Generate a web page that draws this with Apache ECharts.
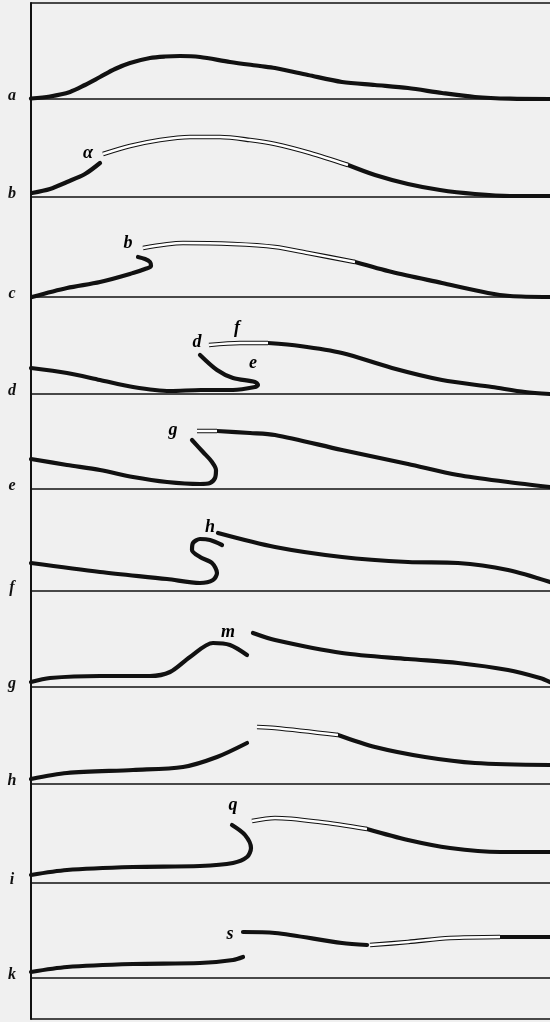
<!DOCTYPE html>
<html><head><meta charset="utf-8">
<script src="https://cdn.jsdelivr.net/npm/echarts@6/dist/echarts.min.js"></script>
<style>html,body{margin:0;padding:0;background:#f0f0f0}#c{width:550px;height:1022px}</style>
</head><body><div id="c"></div><script>
// Panel letters (left of each trace)
const panelLetters = ['a','b','c','d','e','f','g','h','i','k'];

// Traces: [time, height above baseline]
const aTrace = [[0,0.5],[19,2.5],[39,7],[54,14],[69,22],[84,30],[99,36],[119,41],[134,42.5],[149,43],[169,42],[199,37],[229,33],[244,31],[277,24],[311,17],[344,14],[377,11],[411,6],[444,2],[479,0.3],[519,0]];

const bRise = [[1,4],[19,8],[36,15],[54,23],[69,34]];
const bHollow = [[72,43],[99,51],[129,57],[159,60],[189,60],[219,57],[244,53],[279,44],[317,32]];
const bFall = [[317,32],[344,22],[377,13],[409,7],[444,3],[479,1],[519,1]];
const bMarks = [[57,44,'α']];

const cRise = [[1,0],[36,9],[69,15],[102,24],[114,28],[120,31],[119,35],[114,38],[107,40]];
const cHollow = [[112,49],[152,54],[202,53],[244,50],[277,44],[324,35]];
const cFall = [[324,35],[361,25],[411,14],[457,4],[479,1],[519,0]];
const cMarks = [[97,54,'b']];

const dPre = [[0,26],[36,21],[69,14],[102,7],[139,3],[170,4],[202,4],[224,7],[227,9],[224,12],[202,16],[186,24],[169,39]];
const dHollow = [[178,49],[209,51],[237,51]];
const dTail = [[237,51],[269,48],[311,41],[361,26],[411,14],[461,7],[494,2],[519,0]];
const dMarks = [[166,52,'d'],[206,66,'f'],[222,31,'e']];

const ePre = [[0,30],[36,24],[69,19],[102,12],[136,7],[169,5],[179,6],[184,11],[185,19],[181,27],[172,37],[161,49]];
const eHollow = [[166,58],[186,58]];
const eTail = [[186,58],[219,56],[244,54],[311,39],[377,25],[427,14],[477,7],[519,2]];
const eMarks = [[142,59,'g']];

const fPre = [[0,28],[69,19],[136,12],[169,8],[182,11],[186,18],[181,28],[169,34],[161,41],[162,48],[169,52],[179,51],[191,46]];
const fTail = [[187,58],[244,44],[311,34],[377,29],[427,28],[477,21],[519,9]];
const fMarks = [[179,64,'h']];

const gPre = [[0,5],[19,9],[69,11],[119,11],[139,15],[159,30],[182,44],[199,42],[216,32]];
const gTail = [[222,54],[244,47],[311,34],[377,28],[427,24],[477,17],[509,9],[519,5]];
const gMarks = [[197,55,'m']];

const hPre = [[0,5],[36,11],[102,14],[152,17],[186,27],[216,41]];
const hHollow = [[226,57],[244,56],[307,49]];
const hTail = [[307,49],[344,37],[394,27],[444,21],[519,19]];

const iPre = [[0,8],[36,13],[102,16],[169,17],[202,20],[216,26],[220,35],[214,48],[201,58]];
const iHollow = [[221,62],[244,65],[289,61],[336,54]];
const iTail = [[336,54],[377,43],[419,35],[469,31],[519,31]];
const iMarks = [[202,78,'q']];

const kPre = [[0,6],[36,11],[102,14],[169,15],[202,18],[212,21]];
const kMid = [[212,46],[244,45],[311,35],[336,33]];
const kHollow = [[339,33],[377,36],[419,40],[469,41]];
const kTail = [[469,41],[519,41]];
const kMarks = [[199,44,'s']];

const panels = [
  {solid:[aTrace], hollow:[], marks:[]},
  {solid:[bRise,bFall], hollow:[bHollow], marks:bMarks},
  {solid:[cRise,cFall], hollow:[cHollow], marks:cMarks},
  {solid:[dPre,dTail], hollow:[dHollow], marks:dMarks},
  {solid:[ePre,eTail], hollow:[eHollow], marks:eMarks},
  {solid:[fPre,fTail], hollow:[], marks:fMarks},
  {solid:[gPre,gTail], hollow:[], marks:gMarks},
  {solid:[hPre,hTail], hollow:[hHollow], marks:[]},
  {solid:[iPre,iTail], hollow:[iHollow], marks:iMarks},
  {solid:[kPre,kMid,kTail], hollow:[kHollow], marks:kMarks}
];

// Layout
const edges = [3,99,197,297,394,489,591,687,784,883,978,1019];
const INK = '#111';
const grids=[], xAxes=[], yAxes=[], series=[], graphics=[];
const hiddenParts = {axisTick:{show:false},axisLabel:{show:false},splitLine:{show:false}};
for (let i=0;i<edges.length-1;i++){
  const h = edges[i+1]-edges[i];
  grids.push({left:31,right:0,top:edges[i],height:h});
  xAxes.push(Object.assign({gridIndex:i,type:'value',min:0,max:519,position:'bottom',
    axisLine:{show:true,onZero:false,lineStyle:{color:INK,width:1.5}}},hiddenParts));
  yAxes.push(Object.assign({gridIndex:i,type:'value',min:0,max:h,
    axisLine:{show:true,onZero:false,lineStyle:{color:INK,width:2}}},hiddenParts));
}
// top border
xAxes.push(Object.assign({gridIndex:0,type:'value',min:0,max:519,position:'top',
  axisLine:{show:true,onZero:false,lineStyle:{color:INK,width:1.5}}},hiddenParts));

const lineBase = {type:'line',showSymbol:false,symbol:'none',smooth:0.3,clip:false,silent:true,animation:false};
panels.forEach((p,i)=>{
  p.solid.forEach(d=>series.push(Object.assign({},lineBase,{xAxisIndex:i,yAxisIndex:i,data:d,
    lineStyle:{color:INK,width:4.2,cap:'round',join:'round'}})));
  p.hollow.forEach(d=>{
    series.push(Object.assign({},lineBase,{xAxisIndex:i,yAxisIndex:i,data:d,lineStyle:{color:INK,width:4.6,join:'round'}}));
    series.push(Object.assign({},lineBase,{xAxisIndex:i,yAxisIndex:i,data:d,lineStyle:{color:'#ffffff',width:2.4,join:'round'}}));
  });
  if (p.marks.length) series.push({type:'scatter',xAxisIndex:i,yAxisIndex:i,data:p.marks,symbolSize:1,
    itemStyle:{color:'rgba(0,0,0,0)'},silent:true,animation:false,
    label:{show:true,position:'inside',formatter:q=>q.value[2],color:'#000',textBorderWidth:0,opacity:1,
      fontFamily:'Liberation Serif',fontStyle:'italic',fontWeight:'bold',fontSize:18}});
  graphics.push({type:'text',x:12,y:edges[i+1]+5,style:{text:panelLetters[i],
    font:'italic bold 16px "Liberation Serif"',fill:INK,textAlign:'center',textVerticalAlign:'bottom'}});
});

const chart = echarts.init(document.getElementById('c'),null,{renderer:'canvas'});
chart.setOption({backgroundColor:'#f0f0f0',animation:false,grid:grids,xAxis:xAxes,yAxis:yAxes,series:series,graphic:graphics});
</script></body></html>
